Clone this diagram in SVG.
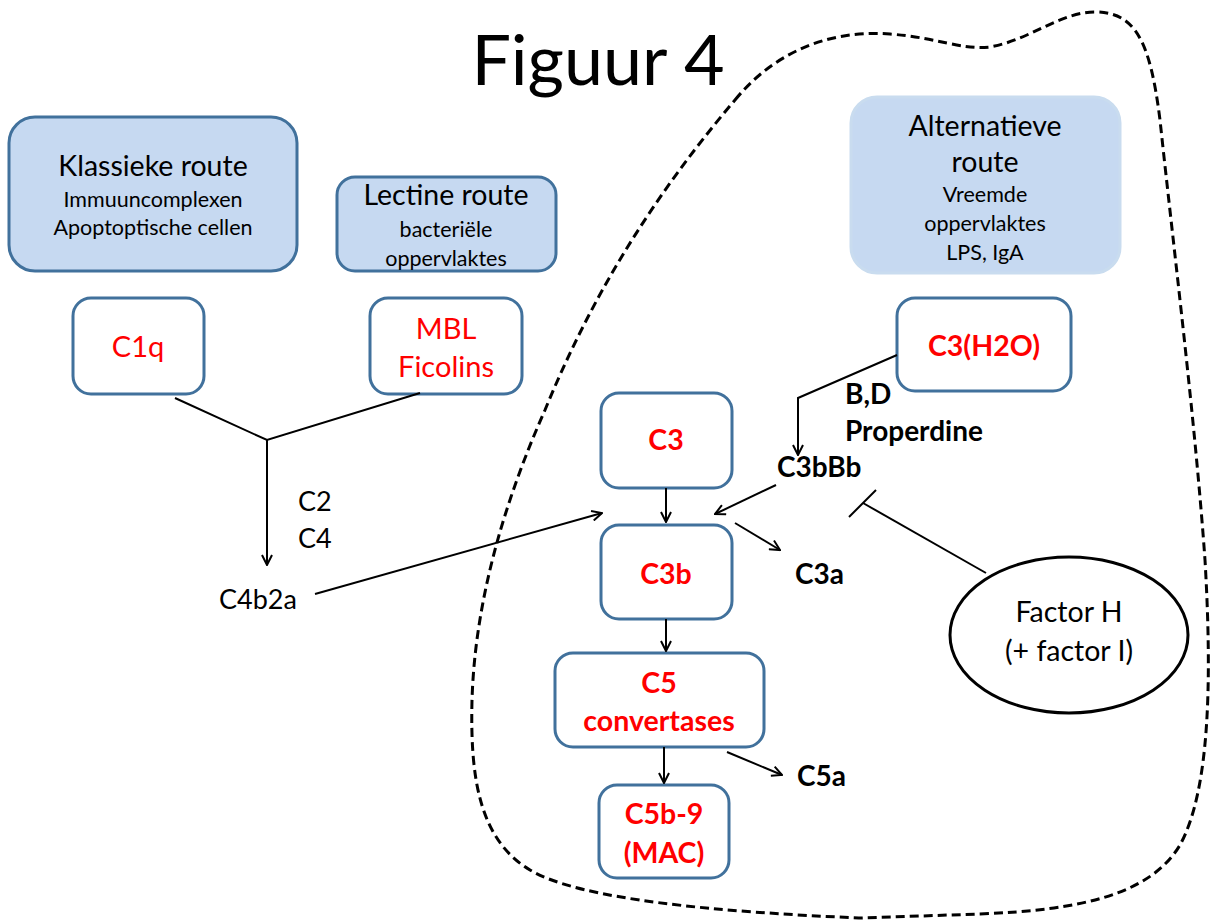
<svg xmlns="http://www.w3.org/2000/svg" width="1210" height="922" viewBox="0 0 1210 922">
<defs>
<style>
text{font-family:Lato,"Open Sans","Liberation Sans",sans-serif;text-anchor:middle;fill:#000}
.route{fill:#c6d9f1;stroke:#41719c;stroke-width:3}
.alt{fill:#c6d9f1;stroke:#c9dcef;stroke-width:3}
.node{fill:#fff;stroke:#41719c;stroke-width:3}
.h{font-size:28.5px}
.s{font-size:21.5px}
.red{fill:#ff0000;font-size:29px}
.rb{fill:#ff0000;font-size:28.5px;font-weight:bold}
.lb{font-size:28px;font-weight:bold;text-anchor:start}
.ln{font-size:27px;text-anchor:start}
.c{fill:none;stroke:#000;stroke-width:2}
</style>
<marker id="arr" viewBox="0 0 12 12" refX="11" refY="6" markerWidth="12" markerHeight="12" markerUnits="userSpaceOnUse" orient="auto">
<path d="M1,1 L11,6 L1,11" fill="none" stroke="#000" stroke-width="2"/>
</marker>
</defs>
<rect width="1210" height="922" fill="#fff"/>
<text x="598" y="85" style="font-size:70px">Figuur 4</text>
<path id="boundary" d="M735,100 C780,45 840,30 890,34 C940,38 960,50 990,47 C1030,40 1060,12 1095,12 C1135,12 1150,40 1160,120 C1175,260 1195,420 1205,560 C1212,680 1210,790 1180,845 C1150,895 1080,910 980,914 L860,918 C720,912 580,900 530,870 C480,840 470,780 472,700 C475,600 505,500 545,410 C590,300 650,200 735,100 Z" fill="none" stroke="#000" stroke-width="3" stroke-dasharray="9,5"/>
<g id="klassieke">
<rect class="route" x="9" y="117" width="288" height="154" rx="26"/>
<text class="h" x="153" y="176">Klassieke route</text>
<text class="s" x="153" y="207">Immuuncomplexen</text>
<text class="s" x="153" y="235">Apoptoptische cellen</text>
</g>
<g id="lectine">
<rect class="route" x="337" y="177" width="219" height="94" rx="18"/>
<text class="h" x="446" y="205">Lectine route</text>
<text class="s" x="446" y="237">bacteriële</text>
<text class="s" x="446" y="266">oppervlaktes</text>
</g>
<g id="alternatieve">
<rect class="alt" x="851" y="97" width="269" height="176" rx="26"/>
<text class="h" x="985" y="136">Alternatieve</text>
<text class="h" x="985" y="172">route</text>
<text class="s" x="985" y="202">Vreemde</text>
<text class="s" x="985" y="231">oppervlaktes</text>
<text class="s" x="985" y="260">LPS, IgA</text>
</g>
<g id="c1q">
<rect class="node" x="73" y="298" width="131" height="96" rx="18"/>
<text class="red" x="138" y="357">C1q</text>
</g>
<g id="mbl">
<rect class="node" x="370" y="298" width="152" height="96" rx="18"/>
<text class="red" x="446" y="339">MBL</text>
<text class="red" x="446" y="377">Ficolins</text>
</g>
<g id="c3h2o">
<rect class="node" x="897" y="298" width="174" height="93" rx="18"/>
<text class="rb" x="984" y="356">C3(H2O)</text>
</g>
<g id="c3">
<rect class="node" x="601" y="393" width="131" height="95" rx="18"/>
<text class="rb" x="666" y="450">C3</text>
</g>
<g id="c3b">
<rect class="node" x="601" y="525" width="131" height="94" rx="18"/>
<text class="rb" x="666" y="584">C3b</text>
</g>
<g id="c5conv">
<rect class="node" x="555" y="653" width="209" height="94" rx="18"/>
<text class="rb" x="659" y="693">C5</text>
<text class="rb" x="659" y="731">convertases</text>
</g>
<g id="c5b9">
<rect class="node" x="599" y="785" width="130" height="93" rx="18"/>
<text class="rb" x="664" y="824">C5b-9</text>
<text class="rb" x="664" y="863">(MAC)</text>
</g>
<g id="factorH">
<ellipse cx="1069" cy="635" rx="119" ry="78" fill="#fff" stroke="#000" stroke-width="3"/>
<text class="h" x="1069" y="622">Factor H</text>
<text class="h" x="1069" y="661">(+ factor I)</text>
</g>
<g id="labels">
<text class="ln" x="298" y="511">C2</text>
<text class="ln" x="298" y="548">C4</text>
<text class="ln" x="219" y="609">C4b2a</text>
<text class="lb" x="845" y="404">B,D</text>
<text class="lb" x="845" y="441">Properdine</text>
<text class="lb" x="777" y="477">C3bBb</text>
<text class="lb" x="795" y="584">C3a</text>
<text class="lb" x="797" y="786">C5a</text>
</g>
<g id="connectors">
<path class="c" d="M175,398 L267,440 L420,393"/>
<path class="c" d="M267,440 L267,565" marker-end="url(#arr)"/>
<path class="c" d="M315,594 L602,513" marker-end="url(#arr)"/>
<path class="c" d="M666,488 L666,522" marker-end="url(#arr)"/>
<path class="c" d="M776,485 L715,514" marker-end="url(#arr)"/>
<path class="c" d="M735,523 L780,550" marker-end="url(#arr)"/>
<path class="c" d="M897,355 L798,398 L798,455" marker-end="url(#arr)"/>
<path class="c" d="M666,619 L666,651" marker-end="url(#arr)"/>
<path class="c" d="M664,747 L664,783" marker-end="url(#arr)"/>
<path class="c" d="M727,752 L782,775" marker-end="url(#arr)"/>
<path class="c" d="M986,573 L863,503"/>
<path class="c" d="M849,517 L876,490"/>
</g>
</svg>
